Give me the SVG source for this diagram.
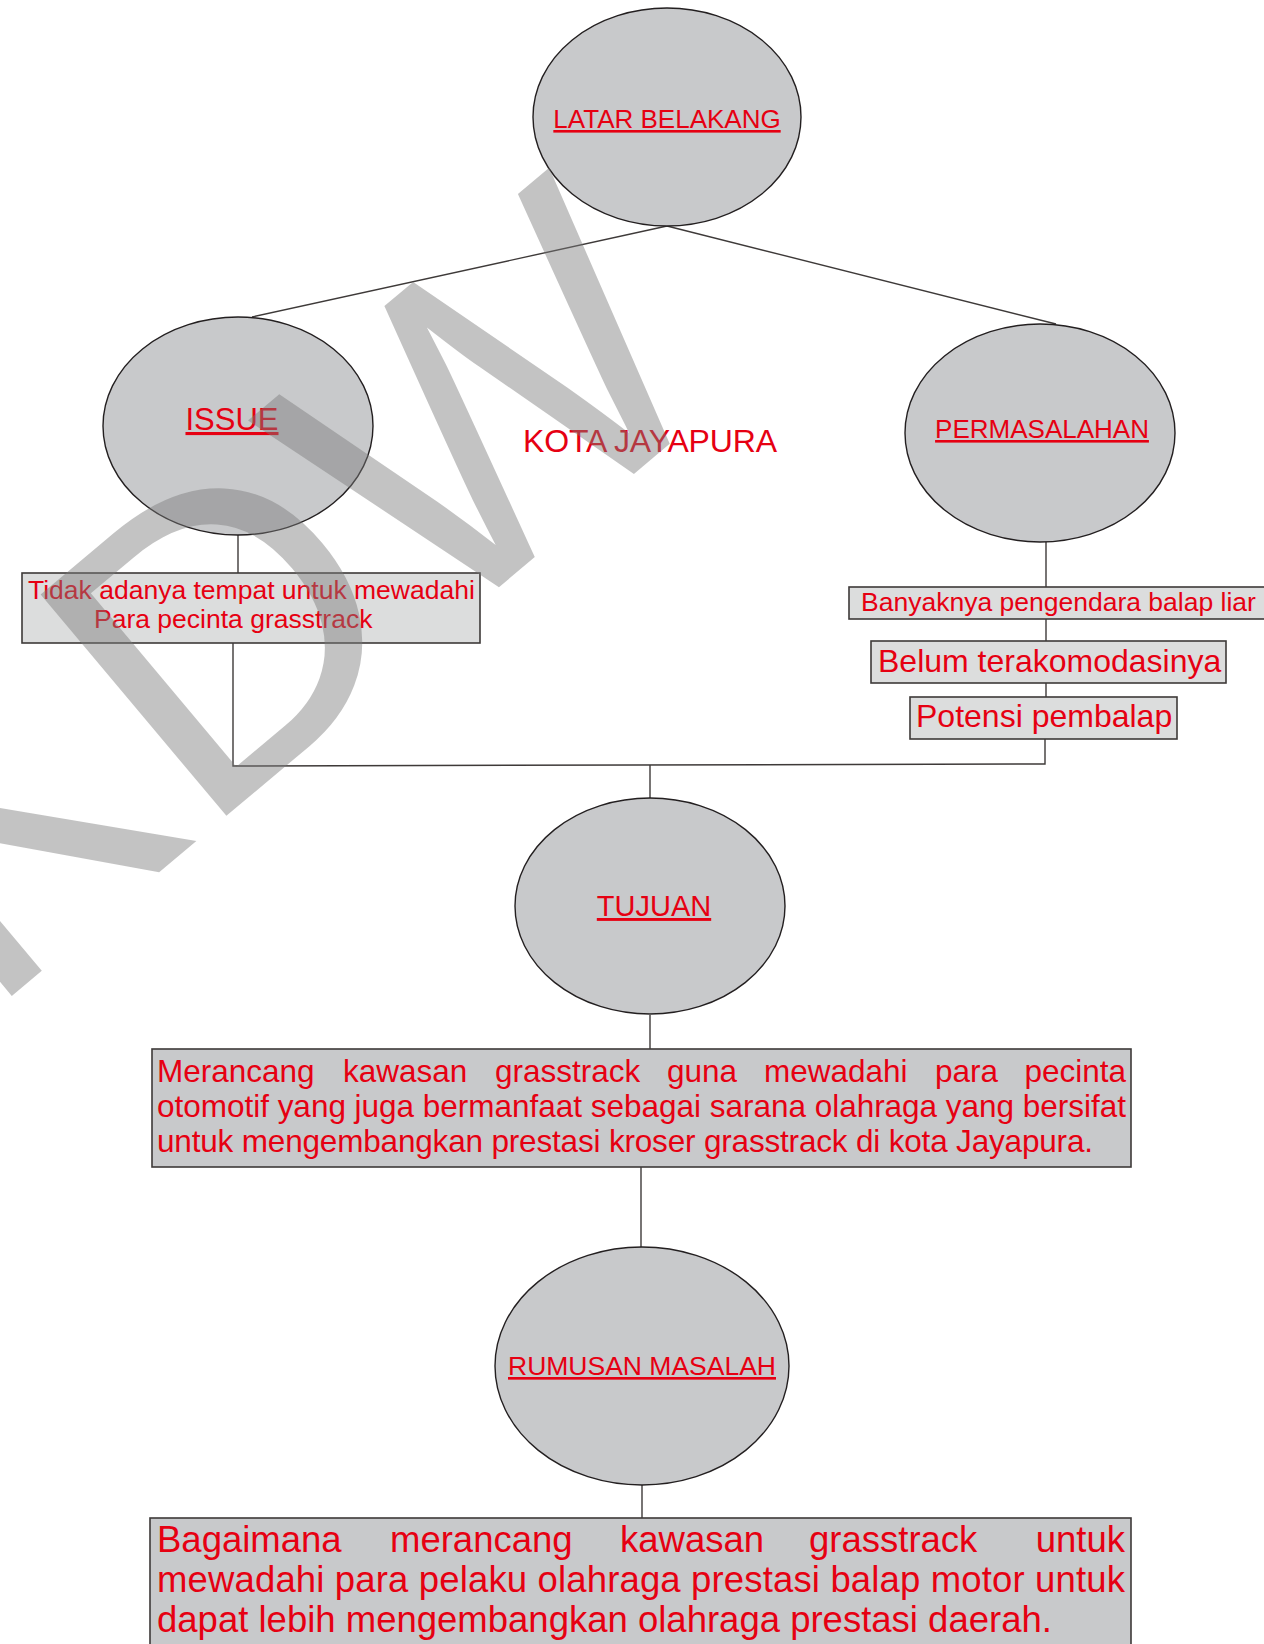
<svg xmlns="http://www.w3.org/2000/svg" width="1264" height="1644" viewBox="0 0 1264 1644">
<style>
.bg{fill:#ffffff}
.ell{fill:#c8c9cb;stroke:#231f20;stroke-width:1.4}
.boxl{fill:#dcdddd;stroke:#3e3a39;stroke-width:1.6}
.boxd{fill:#c8c9cb;stroke:#3e3a39;stroke-width:1.6}
.con{fill:none;stroke:#3e3a39;stroke-width:1.4}
.t{font-family:"Liberation Sans",Arial,sans-serif;fill:#e60012}
.u{text-decoration:underline}
.wm{font-family:"Liberation Sans",Arial,sans-serif;font-size:420px;fill:#7b7b7b;fill-opacity:0.455}
</style>
<rect class="bg" x="0" y="0" width="1264" height="1644"/>
<g id="connectors">
<path class="con" d="M667 226 L252 317"/>
<path class="con" d="M667 226 L1056 324"/>
<path class="con" d="M238 535 V573"/>
<path class="con" d="M1046 542 V587"/>
<path class="con" d="M1046 619 V641"/>
<path class="con" d="M1046 683 V697"/>
<path class="con" d="M233 643 V766 L1045 764 V739"/>
<path class="con" d="M650 765 V798"/>
<path class="con" d="M650 1015 V1049"/>
<path class="con" d="M641 1167 V1247"/>
<path class="con" d="M642 1485 V1518"/>
</g>
<g id="latar-belakang">
<ellipse class="ell" cx="667" cy="117" rx="134" ry="109"/>
<text class="t u" x="667" y="128" font-size="26" text-anchor="middle">LATAR BELAKANG</text>
</g>
<g id="issue">
<ellipse class="ell" cx="238" cy="426" rx="135" ry="109"/>
<text class="t u" x="232" y="430" font-size="31" text-anchor="middle">ISSUE</text>
</g>
<g id="permasalahan">
<ellipse class="ell" cx="1040" cy="433" rx="135" ry="109"/>
<text class="t u" x="1042" y="438" font-size="26" text-anchor="middle">PERMASALAHAN</text>
</g>
<g id="kota-jayapura">
<text class="t" x="523" y="452" font-size="32" textLength="254" lengthAdjust="spacing">KOTA JAYAPURA</text>
</g>
<g id="tidak-adanya">
<rect class="boxl" x="22" y="573" width="458" height="70"/>
<text class="t" x="28" y="599" font-size="26.5">Tidak adanya tempat untuk mewadahi</text>
<text class="t" x="94" y="628" font-size="26.5">Para pecinta grasstrack</text>
</g>
<g id="banyaknya">
<rect class="boxl" x="849" y="587" width="420" height="32"/>
<text class="t" x="861" y="611" font-size="26.5">Banyaknya pengendara balap liar</text>
</g>
<g id="belum">
<rect class="boxl" x="871" y="641" width="355" height="42"/>
<text class="t" x="878" y="672" font-size="32">Belum terakomodasinya</text>
</g>
<g id="potensi">
<rect class="boxl" x="910" y="697" width="267" height="42"/>
<text class="t" x="916" y="727" font-size="32">Potensi pembalap</text>
</g>
<g id="tujuan">
<ellipse class="ell" cx="650" cy="906" rx="135" ry="108"/>
<text class="t u" x="654" y="916" font-size="29" text-anchor="middle">TUJUAN</text>
</g>
<g id="merancang">
<rect class="boxd" x="152" y="1049" width="979" height="118"/>
<text class="t" y="1082" font-size="31.5"><tspan x="157">Merancang</tspan><tspan x="343">kawasan</tspan><tspan x="495">grasstrack</tspan><tspan x="667">guna</tspan><tspan x="764">mewadahi</tspan><tspan x="935">para</tspan></text>
<text class="t" x="1126" y="1082" font-size="31.5" text-anchor="end">pecinta</text>
<text class="t" x="157" y="1117" font-size="31.5" textLength="969" lengthAdjust="spacing">otomotif yang juga bermanfaat sebagai sarana olahraga yang bersifat</text>
<text class="t" x="157" y="1152" font-size="31.5" textLength="936" lengthAdjust="spacing">untuk mengembangkan prestasi kroser grasstrack di kota Jayapura.</text>
</g>
<g id="rumusan-masalah">
<ellipse class="ell" cx="642" cy="1366" rx="147" ry="119"/>
<text class="t u" x="642" y="1375" font-size="26.5" text-anchor="middle">RUMUSAN MASALAH</text>
</g>
<g id="bagaimana">
<rect class="boxd" x="150" y="1518" width="981" height="140"/>
<text class="t" y="1552" font-size="36.5"><tspan x="157">Bagaimana</tspan><tspan x="390">merancang</tspan><tspan x="620">kawasan</tspan><tspan x="809">grasstrack</tspan></text>
<text class="t" x="1125" y="1552" font-size="36.5" text-anchor="end">untuk</text>
<text class="t" x="157" y="1592" font-size="36.5" textLength="968" lengthAdjust="spacing">mewadahi para pelaku olahraga prestasi balap motor untuk</text>
<text class="t" x="157" y="1632" font-size="36.5">dapat lebih mengembangkan olahraga prestasi daerah.</text>
</g>
<g id="watermark" transform="translate(200,838) rotate(-40)">
<text class="wm" x="0" y="0" text-anchor="end">UK</text>
<text class="wm" x="0" y="0">DW</text>
</g>
</svg>
